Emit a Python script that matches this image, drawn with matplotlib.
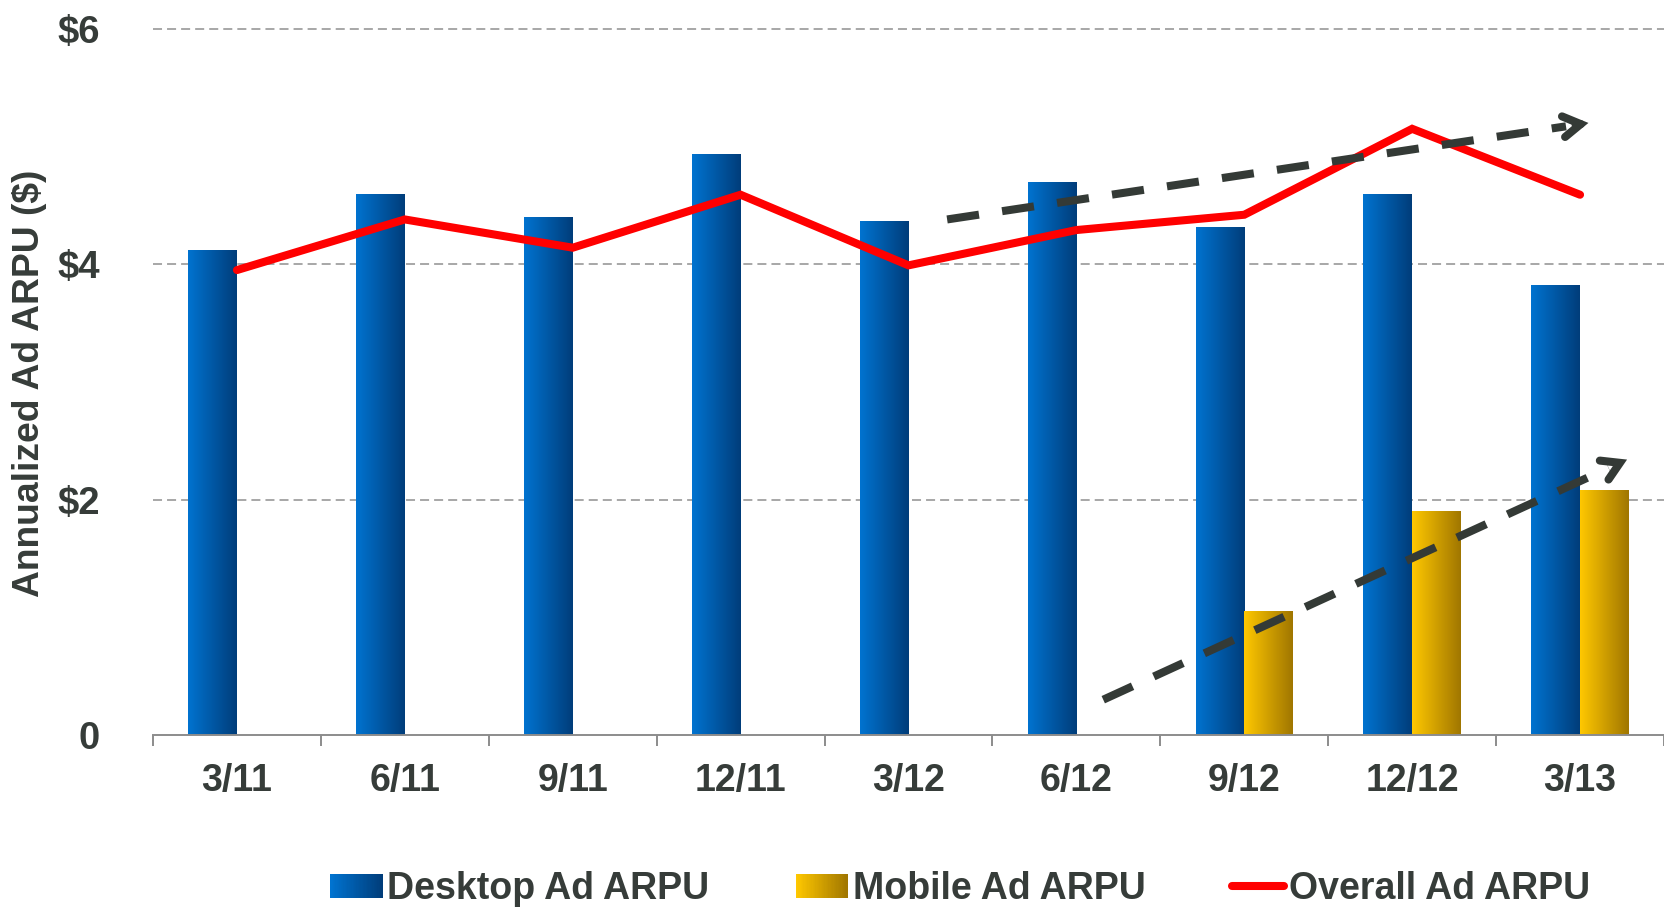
import numpy as np
import matplotlib
matplotlib.use("Agg")
import matplotlib.pyplot as plt
from matplotlib.colors import LinearSegmentedColormap, to_rgb
from matplotlib.legend_handler import HandlerBase
from matplotlib.patches import Rectangle
from matplotlib.lines import Line2D

# ---------------- data ----------------
categories = ["3/11", "6/11", "9/11", "12/11", "3/12", "6/12", "9/12", "12/12", "3/13"]
desktop_arpu = [4.12, 4.59, 4.40, 4.93, 4.36, 4.69, 4.31, 4.59, 3.82]
mobile_arpu = [np.nan, np.nan, np.nan, np.nan, np.nan, np.nan, 1.05, 1.90, 2.08]
overall_arpu = [3.95, 4.38, 4.14, 4.59, 3.99, 4.29, 4.42, 5.15, 4.59]
ytick_values = [0, 2, 4, 6]
ytick_labels = ["0", "$2", "$4", "$6"]
# trend arrows (start x, start y, end x, end y) in data coords
trend_upper = (4.23, 4.38, 8.05, 5.20)
trend_lower = (5.16, 0.30, 8.28, 2.34)

TEXT = "#363c39"
DESK = ("#0073D0", "#003D7A")
MOB = ("#FFC800", "#A07600")

plt.rcParams['font.family'] = ['Liberation Sans', 'DejaVu Sans']
plt.rcParams['font.weight'] = 'bold'

W, H = 1664, 910
fig = plt.figure(figsize=(W / 100, H / 100), dpi=100)
ax = fig.add_axes([153 / W, 1 - 735 / H, 1511 / W, 718 / H])

x = np.arange(len(categories))
bw = 0.29

def grad_cmap(c0, c1):
    return LinearSegmentedColormap.from_list("g", [c0, c1])

gradient = np.linspace(0, 1, 256).reshape(1, -1)

desk_bars = ax.bar(x - bw / 2, desktop_arpu, width=bw, color="none", edgecolor="none", zorder=2)
mob_bars = ax.bar(x + bw / 2, mobile_arpu, width=bw, color="none", edgecolor="none", zorder=2)

for bars, cols in ((desk_bars, DESK), (mob_bars, MOB)):
    cm = grad_cmap(*cols)
    for b in bars:
        h = b.get_height()
        if not np.isfinite(h) or h <= 0:
            continue
        x0 = b.get_x()
        ax.imshow(gradient, extent=[x0, x0 + b.get_width(), 0, h], aspect='auto',
                  cmap=cm, zorder=2, interpolation='bilinear')

ax.plot(x, overall_arpu, color="#FF0000", lw=5.8, solid_capstyle='round',
        solid_joinstyle='miter', zorder=4)

# trend arrows
arrow_col = "#343a36"
for (xs, ys, xe, ye) in (trend_upper, trend_lower):
    ax.plot([xs, xe - (xe - xs) * 0.035], [ys, ye - (ye - ys) * 0.035], color=arrow_col, lw=5.8,
            linestyle=(0, (4.0, 2.9)), dash_capstyle='butt', zorder=5)
    ax.annotate("", xy=(xe, ye), xytext=(xe - (xe - xs) * 0.02, ye - (ye - ys) * 0.02),
                arrowprops=dict(arrowstyle="->,head_length=1.25,head_width=0.75",
                                color=arrow_col, lw=5.8, capstyle='round',
                                joinstyle='miter', shrinkA=0, shrinkB=0),
                zorder=5)

ax.set_xlim(-0.5, -0.5 + 1511 / 169)
ax.set_ylim(0, 6.1)

# axes styling
for s in ("top", "right", "left"):
    ax.spines[s].set_visible(False)
ax.spines["bottom"].set_color("#8c8c8c")
ax.spines["bottom"].set_linewidth(1.4)
ax.spines["bottom"].set_zorder(6)

ax.set_yticks(ytick_values)
ax.set_yticklabels(ytick_labels)
ax.tick_params(axis='y', length=0, pad=38, labelsize=27.5, labelcolor=TEXT)
for lab in ax.get_yticklabels():
    lab.set_fontweight('bold')

ax.set_xticks(x)
ax.set_xticklabels(categories)
ax.set_xticks(np.arange(-0.5, len(categories) + 0.5, 1.0), minor=True)
ax.tick_params(axis='x', which='major', length=0, pad=20, labelsize=27, labelcolor=TEXT)
ax.tick_params(axis='x', which='minor', length=8, width=1.4, color="#8c8c8c", direction='out')
for lab in ax.get_xticklabels():
    lab.set_fontweight('bold')

for yv in ytick_values[1:]:
    ax.axhline(yv, color="#8f8f8f", lw=1.1, linestyle=(0, (5.9, 3.3)), zorder=1, clip_on=False)

fig.text(30 / W, 1 - 383 / H, "Annualized Ad ARPU ($)", rotation=90, ha='center', va='center',
         fontsize=26.8, fontweight='bold', color=TEXT)


class GradientHandler(HandlerBase):
    def __init__(self, c0, c1, n=40):
        super().__init__()
        self.c0 = np.array(to_rgb(c0))
        self.c1 = np.array(to_rgb(c1))
        self.n = n

    def create_artists(self, legend, orig_handle, xdescent, ydescent, width, height, fontsize, trans):
        arts = []
        sw = width / self.n
        for i in range(self.n):
            t = i / (self.n - 1)
            c = self.c0 * (1 - t) + self.c1 * t
            r = Rectangle((-xdescent + i * sw, -ydescent), sw * 1.1, height,
                          facecolor=c, edgecolor='none', transform=trans)
            arts.append(r)
        return arts


h_desk = Rectangle((0, 0), 1, 1)
h_mob = Rectangle((0, 0), 1, 1)
h_line = Line2D([], [], color="#FF0000", lw=5.8, solid_capstyle='round')

leg = fig.legend([h_desk, h_mob, h_line], ["Desktop Ad ARPU", "Mobile Ad ARPU", "Overall Ad ARPU"],
                 handler_map={h_desk: GradientHandler(*DESK), h_mob: GradientHandler(*MOB)},
                 loc='center', bbox_to_anchor=(960 / W, 1 - 889 / H), ncol=3, frameon=False,
                 prop=dict(size=27, weight='bold'), handlelength=1.4, handleheight=0.6,
                 handletextpad=0.12, columnspacing=2.3, borderpad=0)
for t in leg.get_texts():
    t.set_color(TEXT)

fig.savefig("out.png", dpi=100)
